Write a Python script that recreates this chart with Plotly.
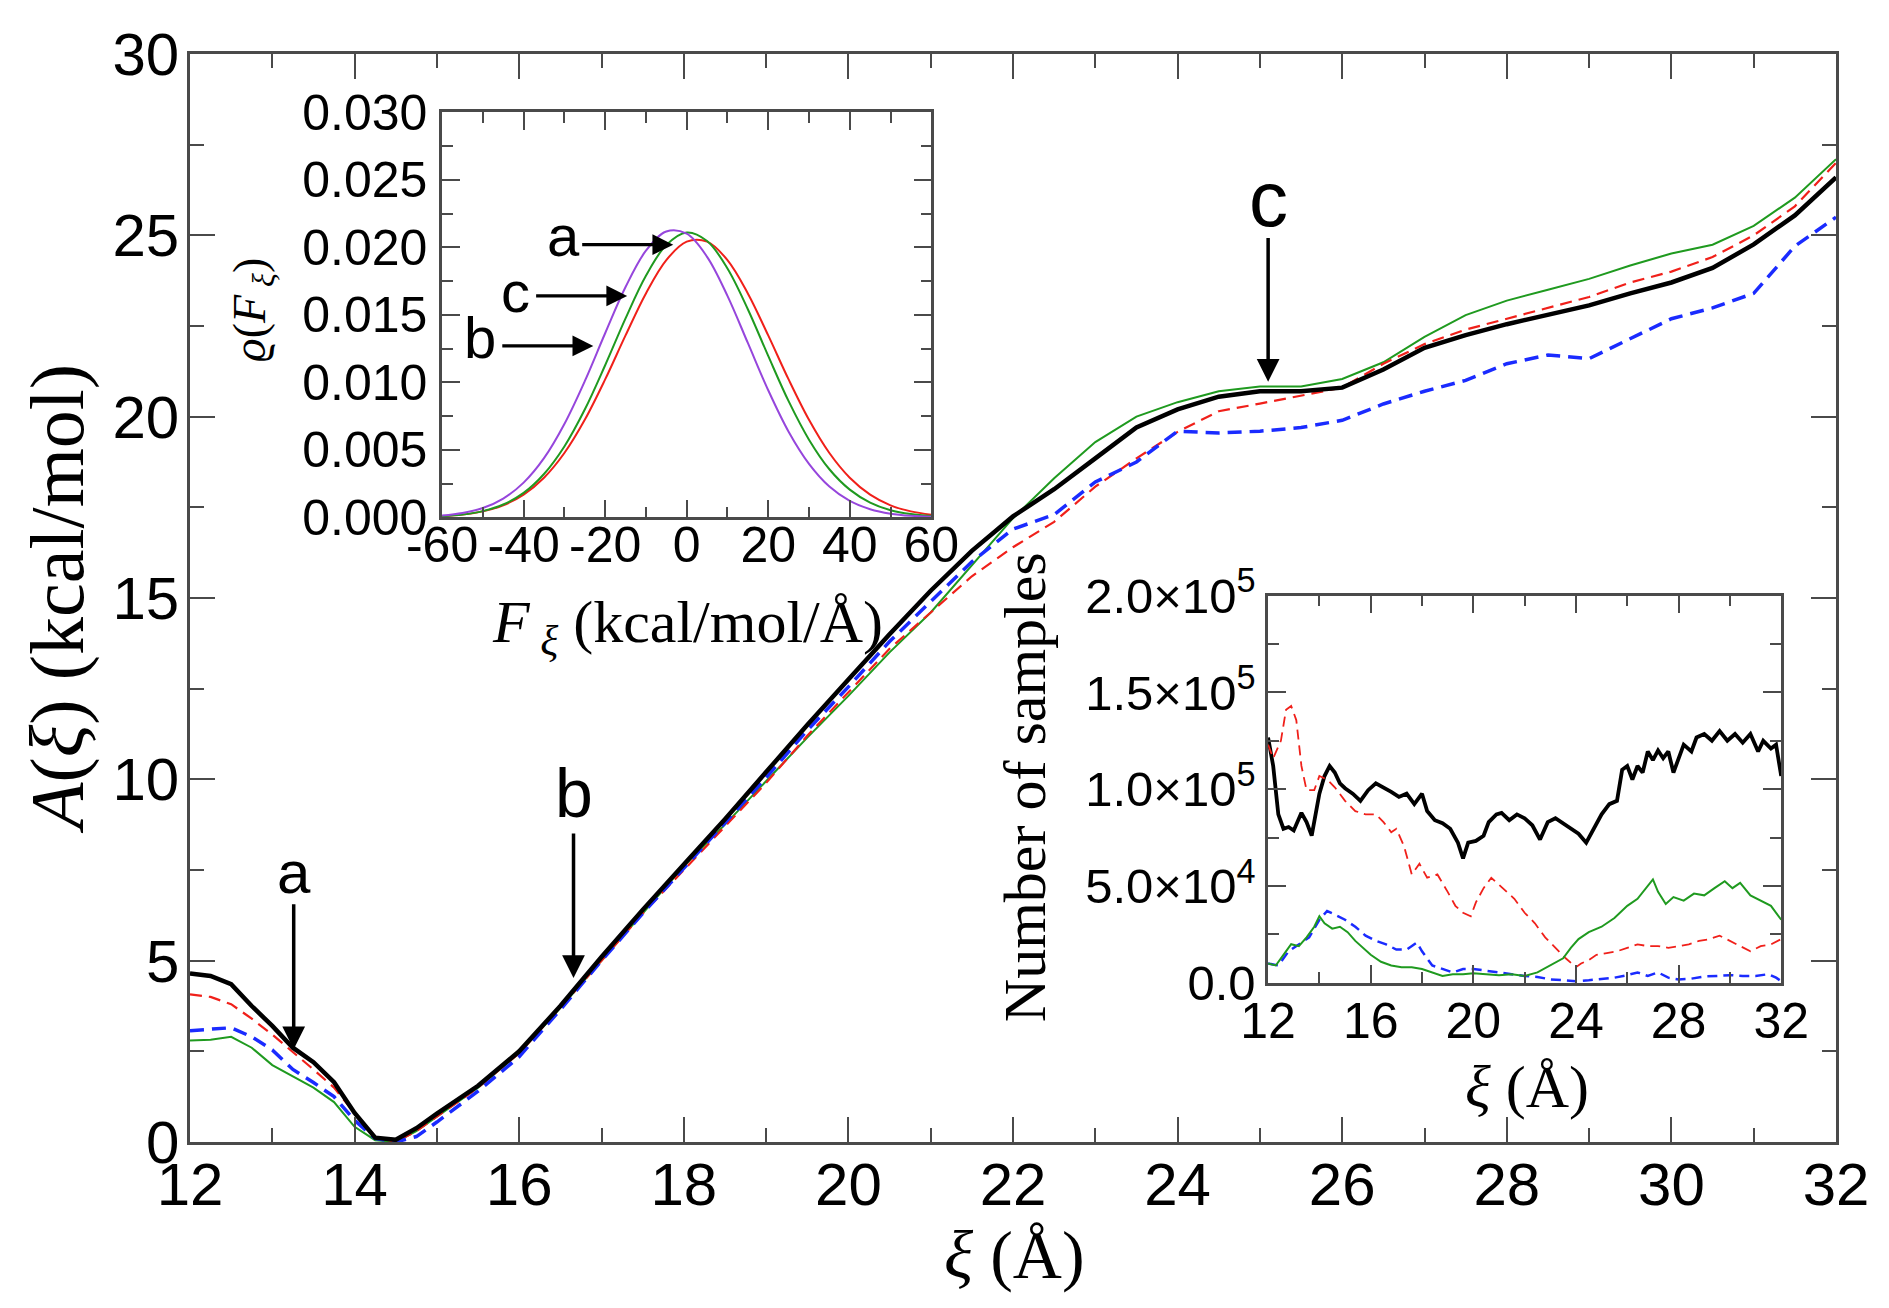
import plotly.graph_objects as go

# ---------------- main panel: free energy profiles ----------------
xi = [12, 12.25, 12.5, 12.75, 13, 13.25, 13.5, 13.75, 14, 14.25, 14.5, 14.75, 15,
      15.5, 16, 16.5, 17, 17.5, 18, 18.5, 19, 19.5, 20, 20.5, 21, 21.5, 22, 22.5,
      23, 23.5, 24, 24.5, 25, 25.5, 26, 26.5, 27, 27.5, 28, 28.5, 29, 29.5, 30,
      30.5, 31, 31.5, 32]
A_black = [4.65, 4.58, 4.35, 3.75, 3.2, 2.6, 2.2, 1.65, 0.8, 0.12, 0.06, 0.38, 0.78,
           1.55, 2.5, 3.75, 5.1, 6.4, 7.65, 8.9, 10.2, 11.5, 12.75, 14.0, 15.2, 16.3,
           17.25, 18.0, 18.85, 19.7, 20.2, 20.55, 20.7, 20.7, 20.8, 21.3, 21.9, 22.25,
           22.55, 22.8, 23.07, 23.4, 23.7, 24.1, 24.75, 25.55, 26.6]
A_red = [4.07, 4.0, 3.8, 3.4, 2.96, 2.49, 2.0, 1.5, 0.8, 0.15, 0.0, 0.3, 0.7,
         1.5, 2.45, 3.7, 5.0, 6.3, 7.5, 8.7, 9.9, 11.2, 12.4, 13.6, 14.6, 15.6,
         16.4, 17.1, 18.07, 18.85, 19.58, 20.15, 20.36, 20.57, 20.8, 21.46, 22.0, 22.4,
         22.7, 23.0, 23.3, 23.7, 24.0, 24.4, 25.0, 25.8, 27.0]
A_blue = [3.07, 3.12, 3.15, 2.9, 2.54, 2.0, 1.64, 1.25, 0.6, 0.1, 0.0, 0.15, 0.55,
          1.4, 2.35, 3.65, 5.0, 6.3, 7.55, 8.8, 10.05, 11.35, 12.55, 13.8, 14.9, 16.0,
          16.9, 17.3, 18.2, 18.75, 19.6, 19.55, 19.6, 19.7, 19.9, 20.35, 20.7, 21.0,
          21.46, 21.7, 21.6, 22.15, 22.7, 23.0, 23.4, 24.7, 25.5]
A_green = [2.8, 2.82, 2.9, 2.6, 2.12, 1.8, 1.5, 1.1, 0.42, 0.05, 0.0, 0.3, 0.7,
           1.5, 2.45, 3.7, 5.0, 6.3, 7.6, 8.75, 9.95, 11.15, 12.3, 13.5, 14.6, 15.9,
           17.2, 18.3, 19.3, 20.0, 20.4, 20.7, 20.83, 20.83, 21.04, 21.5, 22.2, 22.8,
           23.2, 23.5, 23.8, 24.17, 24.5, 24.74, 25.26, 26.04, 27.1]

main_xticks = [12, 14, 16, 18, 20, 22, 24, 26, 28, 30, 32]
main_yticks = [0, 5, 10, 15, 20, 25, 30]

# ---------------- inset 1: force distributions ----------------
F = [-60, -55, -50, -45, -40, -35, -30, -25, -20, -15, -10, -5, 0,
     5, 10, 15, 20, 25, 30, 35, 40, 45, 50, 55, 60]
rho_purple = [0.00014, 0.00033, 0.0007, 0.0014, 0.00258, 0.00439, 0.00692, 0.01009,
              0.01364, 0.01706, 0.01975, 0.02117, 0.02101, 0.0193, 0.01641, 0.01292,
              0.00942, 0.00635, 0.00397, 0.00229, 0.00123, 0.00061, 0.00028, 0.00012, 0.00005]
rho_green = [0.00009, 0.00021, 0.00047, 0.00096, 0.00182, 0.00322, 0.00526, 0.00799,
             0.01127, 0.01474, 0.0179, 0.02017, 0.0211, 0.02047, 0.01844, 0.01542,
             0.01196, 0.00861, 0.00576, 0.00357, 0.00206, 0.0011, 0.00054, 0.00025, 0.00011]
rho_red = [0.00009, 0.00021, 0.00045, 0.0009, 0.00169, 0.00294, 0.00477, 0.00723,
           0.01022, 0.01348, 0.01659, 0.01906, 0.02042, 0.02042, 0.01906, 0.01659,
           0.01348, 0.01022, 0.00723, 0.00477, 0.00294, 0.00169, 0.0009, 0.00045, 0.00021]
in1_xticks = [-60, -40, -20, 0, 20, 40, 60]
in1_xlabels = ["-60", "-40", "-20", "0", "20", "40", "60"]
in1_yticks = [0, 0.005, 0.010, 0.015, 0.020, 0.025, 0.030]
in1_ylabels = ["0.000", "0.005", "0.010", "0.015", "0.020", "0.025", "0.030"]

# ---------------- inset 2: number of samples (thousands) ----------------
xs_black = [12.0, 12.2, 12.4, 12.6, 12.8, 13.0, 13.3, 13.5, 13.7, 14.0, 14.2, 14.4, 14.6,
            14.8, 15.0, 15.3, 15.6, 15.9, 16.2, 16.5, 16.8, 17.1, 17.4, 17.7, 18.0, 18.2,
            18.5, 18.8, 19.1, 19.4, 19.6, 19.8, 20.1, 20.4, 20.6, 20.9, 21.1, 21.4, 21.7,
            22.0, 22.3, 22.6, 22.9, 23.2, 23.5, 23.8, 24.1, 24.4, 24.7, 25.0, 25.3, 25.6,
            25.8, 26.0, 26.2, 26.4, 26.6, 26.8, 27.0, 27.2, 27.4, 27.6, 27.8, 28.0, 28.2,
            28.5, 28.7, 29.0, 29.3, 29.6, 29.9, 30.2, 30.5, 30.8, 31.1, 31.3, 31.6, 31.8, 32.0]
n_black = [126.7, 112, 87, 79.6, 80.5, 78.7, 87.8, 83, 76, 97.7, 106.8, 112, 108.6,
           103, 100.5, 97.7, 94, 99.5, 103, 101, 98.6, 96, 97.7, 92.3, 97.7, 88.7,
           84, 82.4, 79.6, 72.4, 64.3, 72.4, 73.3, 76, 83, 87, 87.8, 84, 87,
           85, 81.4, 74, 83, 85, 82.4, 79.6, 77, 72.4, 79.6, 87, 92.3, 94,
           110, 112, 105, 112, 108.6, 119.5, 115, 120, 116, 119.5, 108.6, 116, 123,
           119.5, 126.7, 128.5, 125, 130, 125, 128.5, 124, 128.5, 119.5, 125, 121, 123, 106.8]
xs_red = [12.0, 12.2, 12.5, 12.7, 12.9, 13.1, 13.3, 13.5, 13.8, 14.0, 14.3, 14.6, 15.0,
          15.4, 15.8, 16.2, 16.5, 16.8, 17.0, 17.3, 17.6, 17.9, 18.2, 18.6, 19.0, 19.3,
          19.6, 19.9, 20.1, 20.4, 20.7, 21.0, 21.3, 21.6, 22.0, 22.4, 22.8, 23.2, 23.6,
          24.0, 24.2, 24.5, 24.8, 25.2, 25.6, 26.0, 26.4, 26.8, 27.2, 27.6, 28.0, 28.4,
          28.8, 29.2, 29.6, 30.0, 30.4, 30.8, 31.2, 31.6, 32.0]
n_red = [123, 116, 125, 141, 143, 135.7, 112, 99.5, 99.5, 106.8, 105, 101, 94,
         88.7, 87, 87, 83, 77.8, 79.6, 70.6, 56, 61.5, 54.3, 56, 47, 39.8,
         36.2, 34.4, 41.6, 48.9, 54.3, 50.7, 47, 43.4, 36.2, 30.8, 23.5, 18.1, 12.7,
         8.1, 10, 11.8, 14.5, 15.4, 16.3, 18.1, 19.9, 19, 19, 18.1, 19, 19.9,
         21.7, 22.6, 24.4, 21.7, 19, 16.3, 19, 19.9, 22.6]
xs_blue = [12.0, 12.4, 12.8, 13.2, 13.6, 14.0, 14.3, 14.6, 15.0, 15.4, 15.8, 16.2, 16.6,
           17.0, 17.4, 17.8, 18.0, 18.4, 18.8, 19.2, 19.6, 20.0, 20.5, 21.0, 21.5, 22.0,
           22.5, 23.0, 23.5, 24.0, 24.5, 25.0, 25.5, 26.0, 26.4, 26.8, 27.2, 27.6, 28.0,
           28.5, 29.0, 29.5, 30.0, 30.5, 31.0, 31.5, 31.8, 32.0]
n_blue = [10, 9, 16.3, 19.9, 23.5, 32.6, 37.1, 35.3, 32.6, 29, 24.4, 21.7, 19.9,
          17.2, 17.2, 20.8, 16.3, 9, 7.2, 5.4, 7.2, 7.2, 6.3, 5.4, 4.5, 3.6,
          3.1, 1.8, 1.4, 0.9, 1.4, 2.2, 2.7, 4, 5.4, 3.6, 5.4, 2.7, 1.8,
          2.2, 3.3, 3.6, 4, 3.6, 3.6, 4.5, 2.7, 0.9]
xs_green = [12.0, 12.3, 12.6, 12.9, 13.2, 13.5, 13.8, 14.0, 14.2, 14.5, 14.8, 15.1, 15.4,
            15.7, 16.0, 16.4, 16.8, 17.2, 17.6, 18.0, 18.4, 18.8, 19.2, 19.6, 20.0, 20.5,
            21.0, 21.5, 22.0, 22.5, 23.0, 23.5, 23.8, 24.1, 24.5, 25.0, 25.5, 26.0, 26.4,
            26.8, 27.0, 27.2, 27.5, 27.8, 28.2, 28.6, 29.0, 29.4, 29.8, 30.1, 30.4, 30.8,
            31.2, 31.6, 32.0]
n_green = [10, 9, 14.5, 20, 19, 23.5, 29, 34.4, 30.8, 28, 29, 26.2, 21.7,
           18.1, 14.5, 10.9, 9, 8.1, 8.1, 7.2, 5.4, 3.6, 4.5, 4.5, 5, 4.5,
           4, 4.5, 3.6, 5.4, 9, 12.7, 18.1, 22.6, 26.2, 29, 33.5, 39.8, 43.4,
           49.8, 53.4, 47, 40.7, 44.3, 42.5, 46.1, 45.2, 48.9, 52.5, 48.9, 51.6, 45.2,
           42.5, 39.8, 32.6]
in2_xticks = [12, 16, 20, 24, 28, 32]
in2_yticks = [0, 50000, 100000, 150000, 200000]
in2_ylabels = ["0.0", "5.0×10<sup>4</sup>", "1.0×10<sup>5</sup>", "1.5×10<sup>5</sup>", "2.0×10<sup>5</sup>"]

BLACK = "#000000"
RED = "#f0201a"
BLUE = "#1a2bff"
GREEN = "#1f9a1f"
PURPLE = "#9646dc"
AXC = "#4a4a4a"
SANS = "Liberation Sans, Arial, sans-serif"
SERIF = "Liberation Serif, Times New Roman, serif"

fig = go.Figure()

# main traces
fig.add_trace(go.Scatter(x=xi, y=A_green, mode="lines", line=dict(color=GREEN, width=2), xaxis="x", yaxis="y"))
fig.add_trace(go.Scatter(x=xi, y=A_red, mode="lines", line=dict(color=RED, width=2.2, dash="12px,7px"), xaxis="x", yaxis="y"))
fig.add_trace(go.Scatter(x=xi, y=A_blue, mode="lines", line=dict(color=BLUE, width=3.5, dash="14px,8px"), xaxis="x", yaxis="y"))
fig.add_trace(go.Scatter(x=xi, y=A_black, mode="lines", line=dict(color=BLACK, width=4.5), xaxis="x", yaxis="y"))

# inset 1
fig.add_trace(go.Scatter(x=F, y=rho_red, mode="lines", line=dict(color=RED, width=2, shape="spline"), xaxis="x2", yaxis="y2"))
fig.add_trace(go.Scatter(x=F, y=rho_green, mode="lines", line=dict(color=GREEN, width=2, shape="spline"), xaxis="x2", yaxis="y2"))
fig.add_trace(go.Scatter(x=F, y=rho_purple, mode="lines", line=dict(color=PURPLE, width=2, shape="spline"), xaxis="x2", yaxis="y2"))

# inset 2
fig.add_trace(go.Scatter(x=xs_black, y=[v * 1000 for v in n_black], mode="lines", line=dict(color=BLACK, width=3.8), xaxis="x3", yaxis="y3"))
fig.add_trace(go.Scatter(x=xs_red, y=[v * 1000 for v in n_red], mode="lines", line=dict(color=RED, width=1.8, dash="10px,6px"), xaxis="x3", yaxis="y3"))
fig.add_trace(go.Scatter(x=xs_blue, y=[v * 1000 for v in n_blue], mode="lines", line=dict(color=BLUE, width=2.5, dash="10px,6px"), xaxis="x3", yaxis="y3"))
fig.add_trace(go.Scatter(x=xs_green, y=[v * 1000 for v in n_green], mode="lines", line=dict(color=GREEN, width=2), xaxis="x3", yaxis="y3"))


def ax_style(**kw):
    d = dict(showline=True, linecolor=AXC, linewidth=2.5, mirror="allticks", ticks="inside",
             tickcolor=AXC, tickwidth=2, showgrid=False, zeroline=False, tickangle=0,
             tickfont=dict(family=SANS, color="#000"))
    d.update(kw)
    return d


# page has an 8px body margin; figure is sized so plot area lands at page px 190..1842 x 41..1142
OFF = 8
W, H = 1889 - 2 * OFF, 1308 - 2 * OFF
L, T = 190 - OFF, 41 - OFF
R = W - (1842 - OFF)
B = H - (1142 - OFF)
PW, PH = W - L - R, H - T - B


def px(xp):  # page pixel -> paper fraction
    return (xp - OFF - L) / PW


def py(yp):
    return (H - B - (yp - OFF)) / PH


fig.update_layout(
    width=W, height=H, margin=dict(l=L, r=R, t=T, b=B, pad=0),
    paper_bgcolor="white", plot_bgcolor="white", showlegend=False,
    xaxis=ax_style(domain=[0, 1], range=[12, 32], tickvals=main_xticks, ticklen=25,
                   tickfont=dict(family=SANS, size=60, color="#000"), ticklabelstandoff=-12,
                   minor=dict(dtick=1, tick0=12, ticklen=14, ticks="inside", tickcolor=AXC, tickwidth=2),
                   anchor="y"),
    yaxis=ax_style(domain=[0, 1], range=[0, 30], tickvals=main_yticks, ticklen=25,
                   tickfont=dict(family=SANS, size=60, color="#000"), ticklabelstandoff=-4,
                   minor=dict(dtick=2.5, tick0=0, ticklen=14, ticks="inside", tickcolor=AXC, tickwidth=2),
                   anchor="x"),
    xaxis2=ax_style(domain=[px(443), px(934)], range=[-60, 60], tickvals=in1_xticks, ticktext=in1_xlabels,
                    ticklen=18, tickfont=dict(family=SANS, size=50, color="#000"), ticklabelstandoff=-18,
                    minor=dict(dtick=10, tick0=-60, ticklen=11, ticks="inside", tickcolor=AXC, tickwidth=2),
                    anchor="y2"),
    yaxis2=ax_style(domain=[py(510), py(100)], range=[0, 0.030], tickvals=in1_yticks, ticktext=in1_ylabels,
                    ticklen=18, tickfont=dict(family=SANS, size=50, color="#000"), ticklabelstandoff=2,
                    minor=dict(dtick=0.0025, tick0=0, ticklen=11, ticks="inside", tickcolor=AXC, tickwidth=2),
                    anchor="x2"),
    xaxis3=ax_style(domain=[px(1272), px(1787)], range=[12, 32], tickvals=in2_xticks, ticklen=18,
                    tickfont=dict(family=SANS, size=50, color="#000"), ticklabelstandoff=-8,
                    minor=dict(dtick=2, tick0=12, ticklen=11, ticks="inside", tickcolor=AXC, tickwidth=2),
                    anchor="y3"),
    yaxis3=ax_style(domain=[py(981), py(589)], range=[0, 200000], tickvals=in2_yticks, ticktext=in2_ylabels,
                    ticklen=18, tickfont=dict(family=SANS, size=49, color="#000"), ticklabelstandoff=0,
                    minor=dict(dtick=25000, tick0=0, ticklen=11, ticks="inside", tickcolor=AXC, tickwidth=2),
                    anchor="x3"),
)

ann = []


def title(text, xp, yp, size, angle=0):
    ann.append(dict(text=text, x=px(xp), y=py(yp), xref="paper", yref="paper", xanchor="center",
                    yanchor="middle", textangle=angle, showarrow=False,
                    font=dict(family=SERIF, size=size, color="#000")))


# axis titles (positions in page pixels)
title("<i>A</i>(<i>ξ</i>) (kcal/mol)", 57, 592, 76, -90)
title("<i>ξ</i> (Å)", 1018, 1256, 68)
title("<i>ϱ</i>(<i>F</i><sub> <i>ξ</i></sub>)", 253, 300, 46, -90)
title("<i>F</i><sub> <i>ξ</i></sub> (kcal/mol/Å)", 689, 620, 60)
title("Number of samples", 1028, 783, 60, -90)
title("<i>ξ</i> (Å)", 1532, 1086, 60)

# main arrows a, b, c : (label, x, label y, tail y, head y, font size)
main_marks = [("a", 13.26, 7.42, 6.6, 2.56, 60),
              ("b", 16.66, 9.62, 8.55, 4.52, 68),
              ("c", 25.1, 26.0, 24.97, 20.96, 78)]
for lab, x0, ylab, ytail, yhead, fs in main_marks:
    ann.append(dict(text=lab, x=x0, y=ylab, xref="x", yref="y", xanchor="center", yanchor="middle",
                    showarrow=False, font=dict(family=SANS, size=fs, color="#000")))
    ann.append(dict(text="", x=x0, y=yhead, ax=x0, ay=ytail, xref="x", yref="y", axref="x", ayref="y",
                    showarrow=True, arrowhead=2, arrowsize=1.3, arrowwidth=3.5, arrowcolor="#000", standoff=0))

# inset arrows : (label, label x, label y, tail x, head x, arrow y)
in_marks = [("a", -30.2, 0.0209, -26.0, -3.3, 0.0202),
            ("c", -41.9, 0.0167, -37.3, -14.6, 0.0164),
            ("b", -50.7, 0.0133, -45.6, -22.9, 0.0127)]
for lab, xl, yl, xt, xh, ya in in_marks:
    ann.append(dict(text=lab, x=xl, y=yl, xref="x2", yref="y2", xanchor="center", yanchor="middle",
                    showarrow=False, font=dict(family=SANS, size=58, color="#000")))
    ann.append(dict(text="", x=xh, y=ya, ax=xt, ay=ya, xref="x2", yref="y2", axref="x2", ayref="y2",
                    showarrow=True, arrowhead=2, arrowsize=1.3, arrowwidth=3.2, arrowcolor="#000", standoff=0))

fig.update_layout(annotations=ann)
fig.write_html("out.html")
